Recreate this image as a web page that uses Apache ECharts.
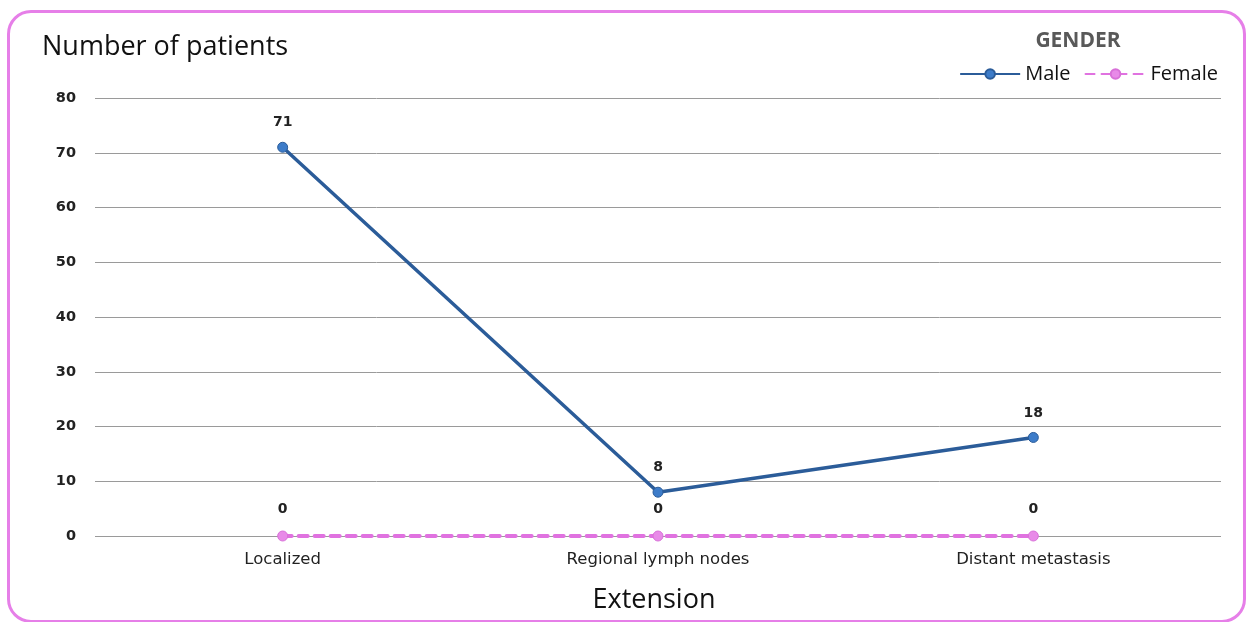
<!DOCTYPE html>
<html><head><meta charset="utf-8">
<script src="https://cdn.jsdelivr.net/npm/echarts@6/dist/echarts.min.js"></script>
<style>
html,body{margin:0;padding:0;background:#fff;}
#frame{position:absolute;left:7px;top:10px;width:1239px;height:613px;border:3px solid #e67fe8;border-radius:24px;box-sizing:border-box;background:#fff;}
#c{position:absolute;left:0;top:0;width:1251px;height:622px;}
</style></head>
<body>
<div id="frame"></div>
<div id="c"></div>
<script>
const categories = ["Localized", "Regional lymph nodes", "Distant metastasis"];
const maleValues = [71, 8, 18];
const femaleValues = [0, 0, 0];
const yTicks = [0, 10, 20, 30, 40, 50, 60, 70, 80];

const chart = echarts.init(document.getElementById('c'));
const lblFont = {fontFamily: 'DejaVu Sans', fontSize: 14, color: '#222', fontWeight: 'bold'};
chart.setOption({
  animation: false,
  textStyle: {fontFamily: 'DejaVu Sans'},
  title: [
    {text: 'Number of patients', left: 37, top: 29, textStyle: {fontFamily: 'Open Sans', fontSize: 27, fontWeight: 'normal', color: '#111'}},
    {text: 'GENDER', left: 1073, top: 26, textAlign: 'center', textStyle: {fontFamily: 'Open Sans', fontSize: 21, fontWeight: 'bold', color: '#595959'}},
    {text: 'Extension', left: 649, top: 582, textAlign: 'center', textStyle: {fontFamily: 'Open Sans', fontSize: 27, fontWeight: 'normal', color: '#111'}}
  ],
  legend: {
    right: 28, top: 59, itemWidth: 60, itemHeight: 12, itemGap: 14,
    textStyle: {fontFamily: 'Open Sans', fontSize: 20, color: '#111'},
    data: ['Male', 'Female']
  },
  grid: {left: 95, right: 30, top: 98, bottom: 86},
  xAxis: {
    type: 'category', data: categories, boundaryGap: true,
    axisLine: {show: false}, axisTick: {show: false},
    axisLabel: {fontFamily: 'DejaVu Sans', fontSize: 16.5, color: '#222', margin: 15}
  },
  yAxis: {
    type: 'value', min: yTicks[0], max: yTicks[yTicks.length-1], interval: 10,
    axisLine: {show: false}, axisTick: {show: false},
    axisLabel: {fontFamily: 'DejaVu Sans', fontSize: 14.5, color: '#222', fontWeight: 'bold', margin: 19},
    splitLine: {lineStyle: {color: '#9a9a9a', width: 1}}
  },
  series: [
    {
      name: 'Male', type: 'line', data: maleValues,
      symbol: 'circle', symbolSize: 10,
      lineStyle: {color: '#2b5c99', width: 3.5},
      itemStyle: {color: '#3d7cc9', borderColor: '#2b5c99', borderWidth: 1},
      label: {show: true, position: 'top', distance: 12, ...lblFont}
    },
    {
      name: 'Female', type: 'line', data: femaleValues,
      symbol: 'circle', symbolSize: 10,
      lineStyle: {color: '#e072e0', width: 4, type: [9, 7], cap: 'round'},
      itemStyle: {color: '#e88ae8', borderColor: '#d870d8', borderWidth: 1},
      label: {show: true, position: 'top', distance: 14, ...lblFont}
    }
  ]
});
</script>
</body></html>
